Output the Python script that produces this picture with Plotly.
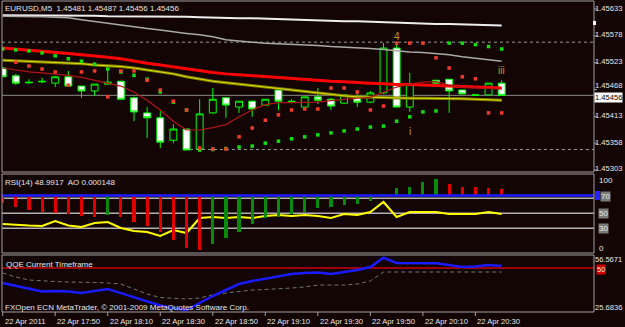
import plotly.graph_objects as go

W, H = 625, 327
BG = '#140505'
FONT = 'Liberation Sans, Arial, sans-serif'

# ---------------- data ----------------
TICK_LABELS = ["22 Apr 2011", "22 Apr 17:50", "22 Apr 18:10", "22 Apr 18:30", "22 Apr 18:50",
               "22 Apr 19:10", "22 Apr 19:30", "22 Apr 19:50", "22 Apr 20:10", "22 Apr 20:30"]
TICK_BARS = [0, 4, 8, 12, 16, 20, 24, 28, 32, 36]

OPEN = [1.45512, 1.45496, 1.45483, 1.45485, 1.45481, 1.45494, 1.45475, 1.45465, 1.45479, 1.45485,
        1.45451, 1.45420, 1.45410, 1.45364, 1.45387, 1.45346, 1.45420, 1.45451, 1.45432, 1.45444,
        1.45436, 1.45467, 1.45444, 1.45432, 1.45453, 1.45448, 1.45440, 1.45455, 1.45442, 1.45461,
        1.45553, 1.45432, 1.45477, 1.45487, 1.45489, 1.45467, 1.45457, 1.45457, 1.45481]
HIGH = [1.45514, 1.45500, 1.45489, 1.45492, 1.45496, 1.45506, 1.45475, 1.45479, 1.45512, 1.45485,
        1.45453, 1.45432, 1.45424, 1.45397, 1.45387, 1.45448, 1.45471, 1.45451, 1.45444, 1.45446,
        1.45448, 1.45467, 1.45448, 1.45453, 1.45471, 1.45451, 1.45459, 1.45463, 1.45465, 1.45563,
        1.45563, 1.45502, 1.45479, 1.45487, 1.45489, 1.45467, 1.45459, 1.45481, 1.45487]
LOW = [1.45494, 1.45477, 1.45479, 1.45481, 1.45473, 1.45475, 1.45451, 1.45455, 1.45479, 1.45448,
       1.45403, 1.45369, 1.45348, 1.45358, 1.45344, 1.45344, 1.45418, 1.45410, 1.45420, 1.45412,
       1.45436, 1.45426, 1.45440, 1.45432, 1.45438, 1.45426, 1.45438, 1.45432, 1.45440, 1.45459,
       1.45432, 1.45422, 1.45475, 1.45481, 1.45420, 1.45459, 1.45455, 1.45457, 1.45456]
CLOSE = [1.45494, 1.45481, 1.45482, 1.45484, 1.45494, 1.45475, 1.45465, 1.45479, 1.45483, 1.45448,
         1.45422, 1.45410, 1.45360, 1.45387, 1.45344, 1.45418, 1.45448, 1.45436, 1.45444, 1.45428,
         1.45448, 1.45444, 1.45443, 1.45453, 1.45446, 1.45434, 1.45457, 1.45442, 1.45461, 1.45553,
         1.45432, 1.45479, 1.45476, 1.45481, 1.45465, 1.45459, 1.45456, 1.45481, 1.45456]

MA_WHITE = [1.45620, 1.45620, 1.45620, 1.45619, 1.45619, 1.45619, 1.45619, 1.45619, 1.45618, 1.45618,
            1.45618, 1.45618, 1.45618, 1.45617, 1.45617, 1.45616, 1.45615, 1.45614, 1.45614, 1.45614,
            1.45613, 1.45613, 1.45611, 1.45610, 1.45610, 1.45609, 1.45608, 1.45608, 1.45607, 1.45606,
            1.45605, 1.45603, 1.45603, 1.45602, 1.45602, 1.45601, 1.45600, 1.45599, 1.45599]
MA_GRAY = [1.45618, 1.45618, 1.45617, 1.45617, 1.45616, 1.45615, 1.45611, 1.45608, 1.45604, 1.45600,
           1.45596, 1.45593, 1.45590, 1.45586, 1.45583, 1.45580, 1.45576, 1.45570, 1.45567, 1.45565,
           1.45563, 1.45562, 1.45561, 1.45560, 1.45558, 1.45556, 1.45555, 1.45554, 1.45552, 1.45550,
           1.45547, 1.45545, 1.45544, 1.45542, 1.45539, 1.45535, 1.45532, 1.45528, 1.45526]
MA_RED = [1.45553, 1.45551, 1.45549, 1.45547, 1.45545, 1.45542, 1.45539, 1.45537, 1.45534, 1.45531,
          1.45526, 1.45522, 1.45518, 1.45514, 1.45511, 1.45507, 1.45503, 1.45500, 1.45498, 1.45496,
          1.45494, 1.45492, 1.45490, 1.45488, 1.45487, 1.45485, 1.45484, 1.45482, 1.45481, 1.45480,
          1.45478, 1.45478, 1.45477, 1.45476, 1.45476, 1.45475, 1.45474, 1.45473, 1.45471]
MA_YELLOW = [1.45528, 1.45527, 1.45525, 1.45525, 1.45524, 1.45523, 1.45521, 1.45518, 1.45517, 1.45515,
             1.45512, 1.45508, 1.45504, 1.45500, 1.45494, 1.45489, 1.45485, 1.45482, 1.45479, 1.45475,
             1.45472, 1.45470, 1.45467, 1.45464, 1.45460, 1.45457, 1.45455, 1.45453, 1.45452, 1.45451,
             1.45451, 1.45450, 1.45450, 1.45450, 1.45449, 1.45449, 1.45448, 1.45447, 1.45446]
MA_DARKRED = [1.45512, 1.45508, 1.45504, 1.45502, 1.45500, 1.45497, 1.45493, 1.45487, 1.45482, 1.45475,
              1.45463, 1.45446, 1.45426, 1.45403, 1.45385, 1.45385, 1.45390, 1.45396, 1.45412, 1.45426,
              1.45437, 1.45441, 1.45441, 1.45441, 1.45442, 1.45445, 1.45448, 1.45450, 1.45452, 1.45463,
              1.45473, 1.45479, 1.45483, 1.45484, 1.45477, 1.45473, 1.45471, 1.45470, 1.45469]

SAR_RED = [None, 1.45524, 1.45516, 1.45510, 1.45504, 1.45477, 1.45504, 1.45506, 1.45453, 1.45506,
           1.45506, 1.45487, 1.45467, 1.45444, 1.45426, 1.45348, 1.45346, 1.45346, 1.45371, 1.45389,
           1.45405, 1.45416, 1.45426, 1.45428, 1.45428, 1.45471, 1.45471, 1.45463, 1.45426, 1.45434,
           1.45563, 1.45563, 1.45563, 1.45533, 1.45512, 1.45494, 1.45490, 1.45420, 1.45420]
SAR_GREEN = [1.45551, 1.45549, 1.45547, 1.45543, 1.45537, 1.45531, 1.45526, 1.45520, 1.45510, 1.45504,
             1.45497, 1.45489, 1.45463, 1.45442, 1.45426, 1.45344, 1.45345, 1.45347, 1.45350, 1.45352,
             1.45358, 1.45362, 1.45367, 1.45371, 1.45375, 1.45379, 1.45383, 1.45387, 1.45391, 1.45393,
             1.45403, 1.45412, 1.45422, 1.45424, 1.45563, 1.45563, 1.45560, 1.45556, 1.45551]

RSI = [35.7, 34.4, 33.7, 33.1, 39.7, 33.7, 31.7, 37.1, 38.4, 30.4,
       26.4, 25.1, 19.7, 27.7, 23.7, 43.7, 45.1, 43.7, 45.1, 43.7,
       46.4, 47.7, 46.4, 47.7, 46.4, 43.7, 49.1, 47.7, 51.7, 65.1,
       45.1, 51.7, 51.6, 51.8, 49.1, 49.0, 49.2, 51.7, 48.9917]
AO = [-0.000171, -0.000262, -0.000331, -0.000376, -0.000410, -0.000422, -0.000467, -0.000490, -0.000445, -0.000495,
      -0.000604, -0.000695, -0.000832, -0.001015, -0.001197, -0.001243, -0.001106, -0.000969, -0.000832, -0.000650,
      -0.000513, -0.000490, -0.000422, -0.000376, -0.000285, -0.000262, -0.000217, -0.000194, -0.000125, 0.000034,
      0.000171, 0.000205, 0.000308, 0.000376, 0.000262, 0.000194, 0.000185, 0.000165, 0.000148]

QQE_FAST = [41.68, 40.02, 38.64, 36.99, 37.26, 37.00, 36.16, 37.30, 38.37, 36.10,
            33.95, 31.75, 29.26, 27.61, 26.78, 30.64, 34.50, 37.81, 41.12, 42.78,
            44.16, 45.54, 46.64, 47.19, 47.47, 46.60, 47.74, 48.85, 50.50, 55.60,
            52.71, 52.70, 52.60, 52.60, 51.60, 50.50, 50.78, 51.60, 51.05]
QQE_SLOW = [47.19, 44.98, 43.33, 42.78, 42.50, 42.23, 42.20, 41.95, 41.68, 41.12,
            38.37, 35.61, 33.68, 33.13, 32.85, 33.40, 35.06, 36.16, 36.99, 37.81,
            38.09, 38.37, 38.92, 39.47, 40.57, 40.57, 40.57, 41.12, 42.78, 47.74,
            47.74, 47.74, 47.74, 47.74, 47.74, 47.74, 47.74, 47.74, 47.74]

PRICE_TICKS = [1.45633, 1.45578, 1.45523, 1.45468, 1.45413, 1.45358, 1.45303]
BID = 1.45456
HI_LEVEL = 1.45565
LO_LEVEL = 1.45345
WAVE_LABELS = [("4", 30, 1.45576), ("i", 31, 1.45381), ("iii", 38, 1.45506)]

BARS = list(range(len(OPEN)))

# ---------------- geometry helpers ----------------
def px(x):
    return x / W


def py(y):
    return 1 - y / H


X_RANGE = [-0.053, 45.03]
XD = [px(2), px(594)]

fig = go.Figure()

# main chart
fig.add_trace(go.Candlestick(
    x=BARS, open=OPEN, high=HIGH, low=LOW, close=CLOSE,
    increasing=dict(line=dict(color='#00ff00', width=1), fillcolor=BG),
    decreasing=dict(line=dict(color='#00ff00', width=1), fillcolor='#ffffff'),
    whiskerwidth=0, xaxis='x', yaxis='y', showlegend=False, hoverinfo='skip'))

def line(y, color, width, xa='x', ya='y', dash=None):
    fig.add_trace(go.Scatter(x=BARS, y=y, mode='lines', xaxis=xa, yaxis=ya,
                             line=dict(color=color, width=width, dash=dash),
                             showlegend=False, hoverinfo='skip'))

line(MA_WHITE, '#eeeeee', 2)
line(MA_GRAY, '#a9a9a9', 1.5)
line(MA_YELLOW, '#7d7d00', 3)
line(MA_YELLOW, '#dede00', 1)
line(MA_RED, '#ff0000', 3)
line(MA_DARKRED, '#b01515', 1.2)

fig.add_trace(go.Scatter(x=BARS, y=SAR_GREEN, mode='markers', xaxis='x', yaxis='y',
                         marker=dict(symbol='square', size=3.5, color='#10e010', line=dict(width=0)),
                         showlegend=False, hoverinfo='skip'))
fig.add_trace(go.Scatter(x=BARS, y=SAR_RED, mode='markers', xaxis='x', yaxis='y',
                         marker=dict(symbol='square', size=3.5, color='#f03a2a', line=dict(width=0)),
                         showlegend=False, hoverinfo='skip'))

# RSI / AO panel
AO_COLORS = ['#e00000' if i == 0 or AO[i] <= AO[i - 1] else '#0a8a0a' for i in range(len(AO))]
fig.add_trace(go.Bar(x=BARS, y=AO, width=0.24, marker=dict(color=AO_COLORS, line=dict(width=0)),
                     xaxis='x2', yaxis='y3', showlegend=False, hoverinfo='skip'))
line(RSI, '#ffff00', 2, 'x2', 'y2')

# QQE panel
line(QQE_SLOW, '#6a7a6a', 1, 'x3', 'y4', dash='4px,3px')
line(QQE_FAST, '#1a1aff', 2.5, 'x3', 'y4')

shapes = []
GRAYL = '#a0a0a0'
# price levels
shapes.append(dict(type='line', xref='x', yref='y', x0=X_RANGE[0], x1=X_RANGE[1], y0=BID, y1=BID,
                   line=dict(color='#8a8a8a', width=1), layer='below'))
shapes.append(dict(type='line', xref='x', yref='y', x0=X_RANGE[0], x1=X_RANGE[1], y0=HI_LEVEL, y1=HI_LEVEL,
                   line=dict(color='#9a9a9a', width=1, dash='3px,3px'), layer='below'))
shapes.append(dict(type='line', xref='x', yref='y', x0=13.8, x1=X_RANGE[1], y0=LO_LEVEL, y1=LO_LEVEL,
                   line=dict(color='#9a9a9a', width=1, dash='3px,3px'), layer='below'))
# RSI levels
for lv in (70, 50, 30):
    shapes.append(dict(type='line', xref='x2', yref='y2', x0=X_RANGE[0], x1=X_RANGE[1], y0=lv, y1=lv,
                       line=dict(color='#b0b0b0', width=1.5), layer='below'))
# AO zero line
shapes.append(dict(type='line', xref='x2', yref='y3', x0=X_RANGE[0], x1=X_RANGE[1], y0=0, y1=0,
                   line=dict(color='#1c1cff', width=2.5), layer='above'))
# QQE level 50
shapes.append(dict(type='line', xref='x3', yref='y4', x0=X_RANGE[0], x1=X_RANGE[1], y0=50, y1=50,
                   line=dict(color='#c80000', width=1.5), layer='below'))
# panel frames
for (t, b) in ((1, 172), (174, 253), (255, 312)):
    shapes.append(dict(type='rect', xref='paper', yref='paper', x0=px(2), x1=px(594), y0=py(b), y1=py(t),
                       line=dict(color=GRAYL, width=1), fillcolor='rgba(0,0,0,0)', layer='above'))
# time axis ticks
for b in TICK_BARS:
    shapes.append(dict(type='line', xref='x3', yref='paper', x0=b, x1=b, y0=py(316), y1=py(312),
                       line=dict(color=GRAYL, width=1)))
# price axis ticks
for v in PRICE_TICKS:
    shapes.append(dict(type='line', xref='paper', yref='y', x0=px(594), x1=px(597), y0=v, y1=v,
                       line=dict(color=GRAYL, width=1)))
# axis markers
shapes.append(dict(type='rect', xref='paper', yref='paper', x0=px(593), x1=px(596), y0=py(25), y1=py(21),
                   line=dict(width=0), fillcolor='#ffffff'))
shapes.append(dict(type='rect', xref='paper', yref='paper', x0=px(595), x1=px(600), y0=py(200), y1=py(191),
                   line=dict(width=0), fillcolor='#2424ff'))

ann = []
TXT = '#e6e6e6'

def text(x, y, s, color=TXT, size=8, bg=None, anchor='left'):
    d = dict(xref='paper', yref='paper', x=px(x), y=py(y), text=s, showarrow=False,
             xanchor=anchor, yanchor='middle', font=dict(family=FONT, size=size, color=color),
             borderpad=0)
    if bg:
        d['bgcolor'] = bg
    ann.append(d)

text(4, 8, "EURUSD,M5  1.45481 1.45487 1.45456 1.45456")
text(4, 182, "RSI(14) 48.9917  AO 0.000148")
text(5, 264, "QQE Current Timeframe")
text(4, 307, "FXOpen ECN MetaTrader, © 2001-2009 MetaQuotes Software Corp.")

# price scale labels placed on the price axis values
for v in PRICE_TICKS:
    shift = 4 if v == 1.45468 else 1
    ann.append(dict(xref='paper', yref='y', x=px(623), y=v, text=f"{v:.5f}", showarrow=False,
                    xanchor='right', yanchor='middle', yshift=shift, borderpad=0,
                    font=dict(family=FONT, size=7.6, color=TXT)))
text(623, 97.5, "1.45456", color='#000000', bg='#ffffff', size=7.6, anchor='right')

text(598, 180, "100")
text(600, 196, "70", bg='#7a7a7a')
text(598, 213, "50", bg='#7a7a7a')
text(598, 228, "30", bg='#7a7a7a')
text(598, 248, "0")
text(623, 259.5, "56.5671", size=7.5, anchor='right')
text(596, 269, "50", bg='#d00000', size=7.5)
text(623, 307, "25.6836", size=7.6, anchor='right')

for lbl, b in zip(TICK_LABELS, TICK_BARS):
    ann.append(dict(xref='x3', yref='paper', x=b, y=py(321), text=lbl, showarrow=False,
                    xanchor='left', yanchor='middle',
                    font=dict(family=FONT, size=7.6, color=TXT)))

for s, b, p in WAVE_LABELS:
    ann.append(dict(xref='x', yref='y', x=b, y=p, text=s, showarrow=False,
                    xanchor='center', yanchor='middle',
                    font=dict(family=FONT, size=10, color='#c09a20')))

axis_common = dict(range=X_RANGE, domain=XD, showgrid=False, zeroline=False, showticklabels=False,
                   ticks='', showline=False, fixedrange=True)

fig.update_layout(
    width=W, height=H, margin=dict(l=0, r=0, t=0, b=0, autoexpand=False),
    paper_bgcolor=BG, plot_bgcolor=BG, showlegend=False, bargap=0, boxgap=0.25,
    xaxis=dict(**axis_common, rangeslider=dict(visible=False), anchor='y'),
    xaxis2=dict(**axis_common, anchor='y2', matches='x'),
    xaxis3=dict(**axis_common, anchor='y4', matches='x'),
    yaxis=dict(domain=[py(172), py(1)], range=[1.4529885, 1.456494], anchor='x',
               showgrid=False, zeroline=False, showticklabels=False, ticks='', fixedrange=True),
    yaxis2=dict(domain=[py(253), py(174)], range=[-2.93, 102.4], anchor='x2', showgrid=False,
                zeroline=False, showticklabels=False, fixedrange=True),
    yaxis3=dict(domain=[py(253), py(174)], range=[-0.001311, 0.000490], anchor='x2', overlaying='y2',
                showgrid=False, zeroline=False, showticklabels=False, fixedrange=True),
    yaxis4=dict(domain=[py(312), py(255)], range=[25.68, 57.12], anchor='x3', showgrid=False,
                zeroline=False, showticklabels=False, fixedrange=True),
    shapes=shapes, annotations=ann,
)

fig.write_html("out.html")
